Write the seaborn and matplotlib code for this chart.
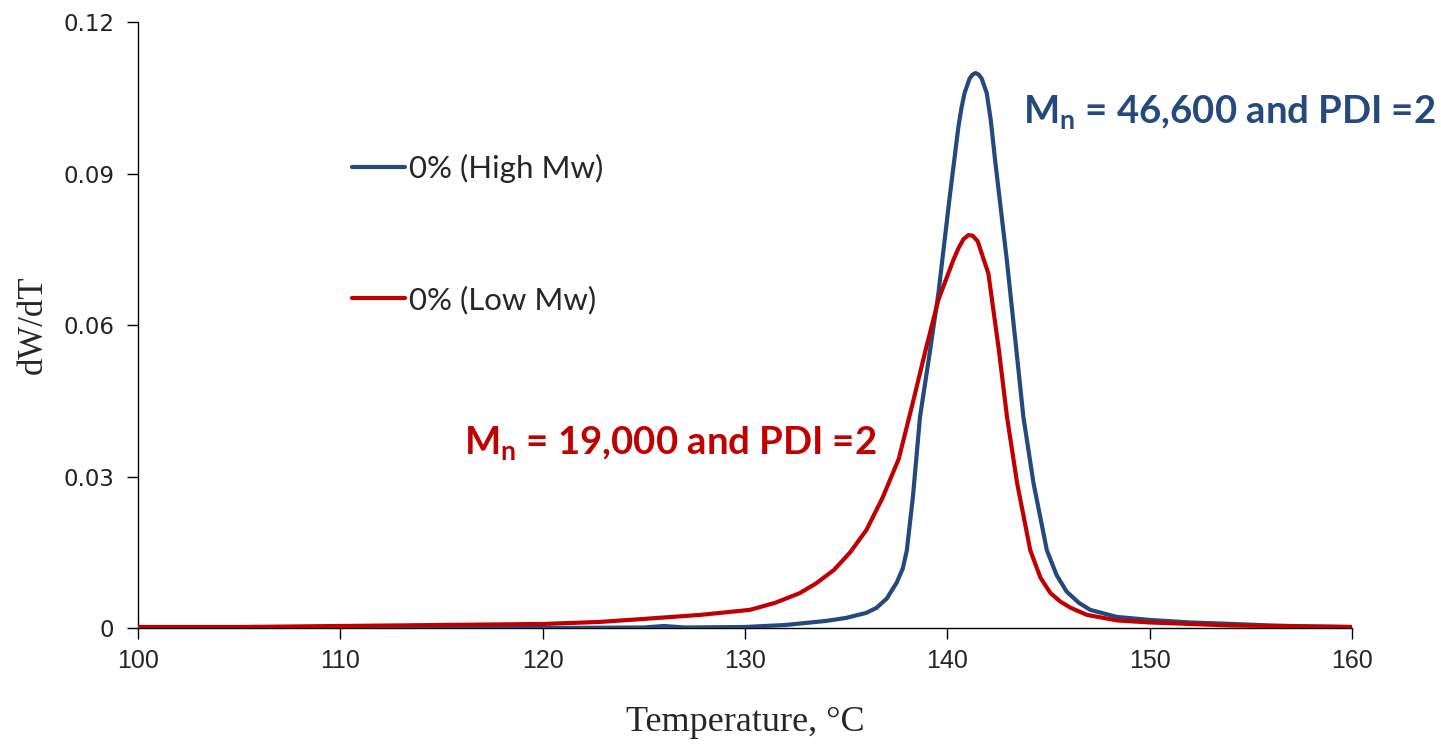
import matplotlib
matplotlib.use("Agg")
import matplotlib.pyplot as plt
import seaborn as sns
import pandas as pd

# ---- data ----
temp_high = [100, 105, 110, 115, 120, 125, 126, 127, 130, 132, 134, 135, 136, 136.5,
             137.0, 137.5, 137.8, 138.0, 138.3, 138.65, 139.15, 139.56, 140.14, 140.55, 140.7,
             140.85, 141.1, 141.25, 141.4, 141.55, 141.7, 141.95, 142.15, 142.36, 142.94,
             143.43, 143.76, 144.26, 144.92, 145.4, 145.9, 146.5, 147.06, 148.38, 150.0,
             152.0, 154.1, 156.0, 158.0, 160.0]
dwdt_high = [0.0002, 0.0001, 0.0001, 0.0001, 0.0000, 0.0001, 0.0004, 0.0001, 0.0002, 0.0006,
             0.0014, 0.0020, 0.0030, 0.0040, 0.0058, 0.0090, 0.0118, 0.0154, 0.0260, 0.0418,
             0.0550, 0.0663, 0.0861, 0.0993, 0.1030, 0.1059, 0.1088, 0.1096, 0.1099, 0.1096,
             0.1088, 0.1059, 0.1005, 0.0927, 0.0729, 0.0544, 0.0418, 0.0287, 0.0154, 0.0105,
             0.0072, 0.0050, 0.0036, 0.0022, 0.0016, 0.0011, 0.0008, 0.0005, 0.0003, 0.0002]

temp_low = [100, 105, 110, 115, 120, 122.8, 125, 127.8, 130.25, 131.5, 132.7, 133.5, 134.4,
            135.2, 136.0, 136.8, 137.6, 138.3, 138.9, 139.56, 140.3, 140.55, 140.8, 141.04,
            141.25, 141.5, 142.03, 142.55, 142.95, 143.45, 144.1, 144.6, 145.1, 145.6, 146.1,
            146.9, 148.4, 150.0, 152.0, 154.0, 156.0, 158.0, 160.0]
dwdt_low = [0.0002, 0.0002, 0.0004, 0.0006, 0.0008, 0.0012, 0.0018, 0.0026, 0.0036, 0.0050,
            0.0069, 0.0088, 0.0115, 0.0150, 0.0194, 0.0258, 0.0335, 0.0447, 0.0546, 0.0650,
            0.0729, 0.0752, 0.0770, 0.0778, 0.0777, 0.0766, 0.0702, 0.0550, 0.0418, 0.0287,
            0.0154, 0.0100, 0.0069, 0.0052, 0.0040, 0.0026, 0.0015, 0.0011, 0.0008, 0.0005,
            0.0004, 0.0003, 0.0002]

label_high = "0% (High Mw)"
label_low = "0% (Low Mw)"
ann_high = "M$_\\mathbf{n}$ = 46,600 and PDI =2"
ann_low = "M$_\\mathbf{n}$ = 19,000 and PDI =2"
x_ticks = [100, 110, 120, 130, 140, 150, 160]
y_ticks = [0, 0.03, 0.06, 0.09, 0.12]
y_ticklabels = ["0", "0.03", "0.06", "0.09", "0.12"]

BLUE = "#23497D"
RED = "#C00000"

sns.set_theme(style="white")
plt.rcParams["font.family"] = ["DejaVu Sans"]
plt.rcParams["mathtext.fontset"] = "custom"
plt.rcParams["mathtext.bf"] = "Lato:bold"
plt.rcParams["mathtext.rm"] = "Lato"

fig = plt.figure(figsize=(14.41, 7.44), dpi=100)
ax = fig.add_axes([0.0958, 0.1559, 0.8424, 0.8145])

df_high = pd.DataFrame({"T": temp_high, "y": dwdt_high})
df_low = pd.DataFrame({"T": temp_low, "y": dwdt_low})
sns.lineplot(data=df_high, x="T", y="y", ax=ax, color=BLUE, lw=3.0,
             label=label_high, estimator=None, zorder=3)
sns.lineplot(data=df_low, x="T", y="y", ax=ax, color=RED, lw=3.0,
             label=label_low, estimator=None, zorder=4)

ax.set_xlim(100, 160)
ax.set_ylim(0, 0.12)
ax.set_xticks(x_ticks)
ax.set_xticklabels([str(t) for t in x_ticks], fontsize=18, family="Liberation Sans")
ax.set_yticks(y_ticks)
ax.set_yticklabels(y_ticklabels, fontsize=16.5, family="DejaVu Sans", color="#222222")
ax.tick_params(axis="both", direction="out", length=8, width=1, color="black",
               bottom=True, left=True)
ax.tick_params(axis="y", pad=9)
ax.tick_params(axis="x", pad=7)
for s in ["top", "right"]:
    ax.spines[s].set_visible(False)
for s in ["left", "bottom"]:
    ax.spines[s].set_color("black")
    ax.spines[s].set_linewidth(1.0)

ax.set_xlabel("Temperature, \u00b0C", fontsize=26, family="Liberation Serif", labelpad=24)
ax.set_ylabel("dW/dT", fontsize=25, family="Liberation Serif", labelpad=10)

leg = ax.legend(loc="upper left", bbox_to_anchor=(0.176, 0.783), frameon=False,
                prop={"family": "Lato", "size": 22.5}, handlelength=1.7,
                handletextpad=0.12, labelspacing=3.3, borderpad=0, borderaxespad=0)

ax.text(143.75, 0.0998, ann_high, color=BLUE, fontsize=27.5, fontweight="bold",
        family="Lato", va="baseline", ha="left")
ax.text(116.1, 0.0343, ann_low, color=RED, fontsize=27.5, fontweight="bold",
        family="Lato", va="baseline", ha="left")

fig.savefig("out.png", dpi=100)
